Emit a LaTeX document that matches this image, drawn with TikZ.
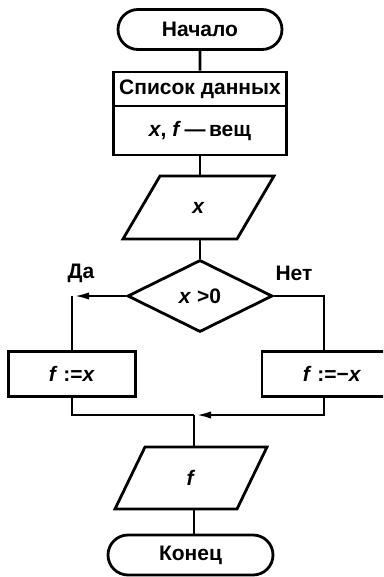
\documentclass[tikz,border=0pt]{standalone}
\usepackage{fontspec}
\setmainfont{Liberation Sans}
\usetikzlibrary{shapes.geometric,shapes.misc,arrows.meta}
\tikzset{
    every node/.style={font=\fontsize{21}{24}\selectfont\bfseries},
    flow/.style={line width=2.8pt},
    terminal/.style={flow,draw,rounded rectangle,minimum width=164pt,minimum height=40pt,inner sep=0pt},
    block/.style={flow,draw,rectangle,inner sep=0pt},
    io/.style={inner sep=0pt},
    decision/.style={flow,draw,diamond,minimum width=145pt,minimum height=72pt,inner sep=0pt},
    branch/.style={flow,-{Latex[length=17pt,width=7pt]}}
}
\begin{document}
\begin{tikzpicture}[x=1pt,y=1pt]
            \useasboundingbox (0,0) rectangle (383,-577);
            \clip (0,0) rectangle (383,-577);
            \node [terminal] (start) at (200,-29.5) {Начало};
            \node [block,minimum width=173pt,minimum height=34pt] (datahead) at (200,-89) {Список данных};
            \node [block,minimum width=173pt,minimum height=49pt] (databody) at (200,-130.5) {\textit{x}, \textit{f}\,—\,вещ};
            \node [io,minimum height=63pt] (inx) at (198.5,-207.5) {\textit{x}};
            \draw [flow] ([shift={(-38.5,31.5)}]inx.center) -- ++(114,0) -- ++(-37,-63) -- ++(-114,0) -- cycle;
            \node [decision] (cond) at (200,-296) {\textit{x} >0};
            \node (yes) at (81,-273) {Да};
            \node (no) at (294,-273) {Нет};
            \node [block,minimum width=127pt,minimum height=45pt] (lbox) at (72,-374) {\textit{f} :=\textit{x}};
            \node [block,minimum width=140pt,minimum height=45pt] (rbox) at (332,-374) {\textit{f} :=−\textit{x}};
            \node [io,minimum height=62pt] (outf) at (191,-478) {\textit{f}};
            \draw [flow] ([shift={(-46,31)}]outf.center) -- ++(122,0) -- ++(-30,-62) -- ++(-122,0) -- cycle;
            \node [terminal,minimum width=165pt] (stop) at (190.5,-555) {Конец};
            \coordinate (ycorner) at (72,-296);
            \coordinate (ncorner) at (324,-296);
            \coordinate (merge) at (194,-415);
            \draw [flow] (start) -- (datahead);
            \draw [flow] (databody.south) -- (databody.south |- inx.north);
            \draw [flow] (inx.south -| cond.north) -- (cond.north);
            \draw [branch] (cond.west) -- (ycorner);
            \draw [flow] (ycorner) -- (lbox.north);
            \draw [flow] (cond.east) -- (ncorner) -- (ncorner |- rbox.north);
            \draw [flow] (lbox.south) |- (merge);
            \draw [branch] (ncorner |- rbox.south) |- (merge);
            \draw [flow] (merge) -- (merge |- outf.north);
            \draw [flow] (merge |- outf.south) -- (merge |- stop.north);
        \end{tikzpicture}
\end{document}
